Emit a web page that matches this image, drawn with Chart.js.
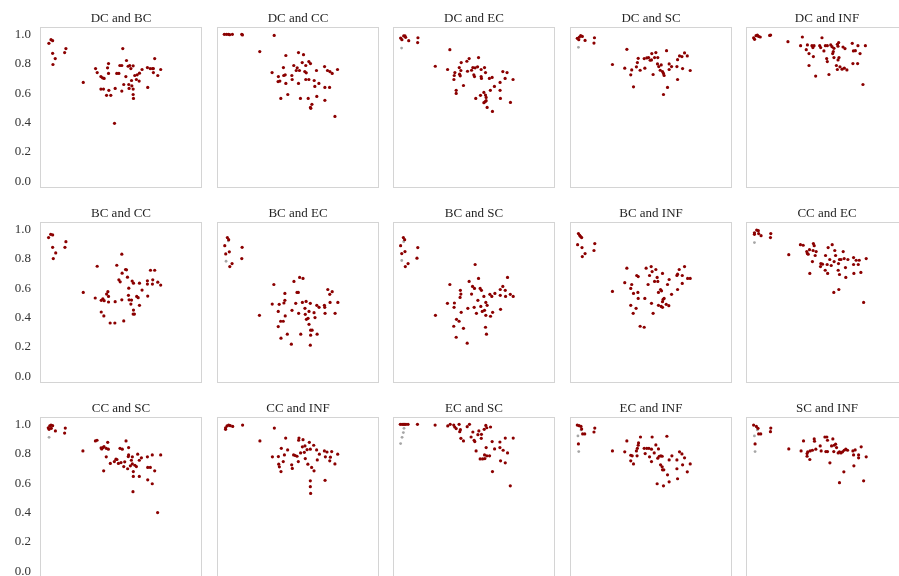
<!DOCTYPE html>
<html>
<head>
<meta charset="utf-8">
<script src="https://cdn.jsdelivr.net/npm/chart.js@4.4.1/dist/chart.umd.min.js"></script>
<style>
  body { margin: 0; background: #fff; }
  #grid { position: relative; width: 899px; height: 576px; overflow: hidden; }
  #grid canvas { position: absolute; }
</style>
</head>
<body>
<div id="grid"></div>
<script>
const titles = [
    'DC and BC', 'DC and CC', 'DC and EC', 'DC and SC', 'DC and INF',
    'BC and CC', 'BC and EC', 'BC and SC', 'BC and INF', 'CC and EC',
    'CC and SC', 'CC and INF', 'EC and SC', 'EC and INF', 'SC and INF',
];
const yTicks = [0, 0.2, 0.4, 0.6, 0.8, 1.0];

// [x, y] pairs
const dcBc = [[0.055,0.939],[0.068,0.964],[0.078,0.957],[0.078,0.871],[0.094,0.835],[0.080,0.795],[0.152,0.876],[0.160,0.903],[0.267,0.673],[0.343,0.767],[0.353,0.740],[0.376,0.713],[0.386,0.704],[0.396,0.700],[0.423,0.801],[0.417,0.772],[0.423,0.734],[0.376,0.628],[0.392,0.628],[0.411,0.585],[0.425,0.619],[0.437,0.585],[0.464,0.632],[0.460,0.395],[0.474,0.734],[0.487,0.734],[0.493,0.788],[0.505,0.788],[0.511,0.903],[0.505,0.614],[0.517,0.659],[0.530,0.713],[0.534,0.822],[0.544,0.783],[0.554,0.788],[0.548,0.659],[0.550,0.632],[0.561,0.767],[0.565,0.686],[0.567,0.650],[0.575,0.786],[0.575,0.628],[0.575,0.591],[0.577,0.564],[0.585,0.720],[0.595,0.693],[0.600,0.725],[0.612,0.682],[0.614,0.736],[0.630,0.761],[0.665,0.639],[0.663,0.774],[0.680,0.767],[0.694,0.767],[0.700,0.740],[0.708,0.835],[0.727,0.720],[0.745,0.761],[0.700,0.767]];
const dcCc = [[0.045,1.0],[0.058,1.0],[0.070,1.0],[0.078,0.998],[0.095,1.0],[0.153,1.0],[0.157,0.996],[0.353,0.993],[0.264,0.883],[0.425,0.856],[0.503,0.876],[0.534,0.862],[0.526,0.808],[0.567,0.815],[0.577,0.801],[0.410,0.774],[0.474,0.788],[0.495,0.772],[0.489,0.754],[0.509,0.754],[0.548,0.788],[0.542,0.747],[0.551,0.738],[0.614,0.754],[0.664,0.781],[0.682,0.754],[0.697,0.747],[0.711,0.734],[0.744,0.761],[0.340,0.740],[0.379,0.713],[0.412,0.720],[0.421,0.725],[0.462,0.720],[0.464,0.693],[0.377,0.679],[0.388,0.682],[0.425,0.666],[0.503,0.666],[0.548,0.693],[0.567,0.693],[0.600,0.686],[0.629,0.666],[0.604,0.646],[0.666,0.639],[0.695,0.639],[0.437,0.591],[0.394,0.564],[0.515,0.564],[0.563,0.564],[0.616,0.578],[0.666,0.551],[0.586,0.524],[0.577,0.503],[0.579,0.497],[0.728,0.442]];
const dcEc = [[0.047,0.975],[0.055,0.964],[0.066,0.989],[0.074,0.989],[0.078,0.980],[0.097,0.957],[0.154,0.977],[0.152,0.944],[0.351,0.896],[0.261,0.783],[0.337,0.761],[0.421,0.808],[0.456,0.817],[0.470,0.835],[0.528,0.842],[0.409,0.774],[0.419,0.754],[0.382,0.740],[0.378,0.720],[0.376,0.693],[0.415,0.718],[0.411,0.729],[0.460,0.749],[0.485,0.756],[0.493,0.774],[0.507,0.772],[0.522,0.779],[0.499,0.725],[0.503,0.713],[0.544,0.761],[0.565,0.774],[0.571,0.740],[0.544,0.713],[0.546,0.700],[0.595,0.700],[0.612,0.707],[0.678,0.747],[0.704,0.740],[0.692,0.700],[0.741,0.693],[0.661,0.673],[0.435,0.652],[0.390,0.619],[0.390,0.598],[0.626,0.646],[0.601,0.619],[0.561,0.605],[0.661,0.619],[0.540,0.585],[0.511,0.564],[0.571,0.587],[0.575,0.571],[0.569,0.542],[0.575,0.549],[0.561,0.535],[0.663,0.564],[0.725,0.537],[0.581,0.503],[0.614,0.476]];
const dcEcGrey = [[0.053,0.907]];
const dcSc = [[0.045,0.973],[0.058,0.982],[0.066,0.991],[0.076,0.986],[0.054,0.964],[0.093,0.959],[0.151,0.977],[0.148,0.941],[0.351,0.898],[0.262,0.795],[0.338,0.770],[0.381,0.758],[0.375,0.725],[0.392,0.643],[0.410,0.779],[0.416,0.808],[0.421,0.837],[0.433,0.756],[0.458,0.835],[0.462,0.770],[0.474,0.840],[0.485,0.842],[0.495,0.824],[0.505,0.869],[0.503,0.826],[0.522,0.842],[0.530,0.876],[0.542,0.842],[0.513,0.727],[0.540,0.799],[0.548,0.781],[0.563,0.792],[0.557,0.756],[0.571,0.747],[0.577,0.734],[0.581,0.720],[0.596,0.889],[0.612,0.799],[0.612,0.761],[0.627,0.781],[0.602,0.639],[0.577,0.591],[0.660,0.781],[0.664,0.828],[0.676,0.853],[0.691,0.849],[0.707,0.874],[0.724,0.853],[0.695,0.767],[0.664,0.693],[0.742,0.754]];
const dcScGrey = [[0.052,0.912]];
const dcInf = [[0.047,0.977],[0.053,0.966],[0.062,0.991],[0.070,0.995],[0.078,0.986],[0.088,0.982],[0.146,0.993],[0.152,0.995],[0.259,0.950],[0.348,0.982],[0.469,0.977],[0.337,0.923],[0.372,0.896],[0.379,0.928],[0.389,0.869],[0.407,0.923],[0.413,0.910],[0.420,0.923],[0.416,0.849],[0.389,0.788],[0.430,0.716],[0.455,0.923],[0.461,0.910],[0.481,0.887],[0.490,0.923],[0.502,0.923],[0.498,0.835],[0.502,0.815],[0.523,0.928],[0.531,0.916],[0.543,0.905],[0.539,0.883],[0.535,0.869],[0.543,0.842],[0.564,0.932],[0.572,0.944],[0.568,0.919],[0.574,0.842],[0.568,0.826],[0.558,0.788],[0.564,0.761],[0.580,0.779],[0.593,0.763],[0.607,0.770],[0.623,0.758],[0.512,0.727],[0.599,0.914],[0.611,0.903],[0.656,0.939],[0.663,0.887],[0.675,0.889],[0.691,0.923],[0.704,0.869],[0.737,0.923],[0.660,0.801],[0.689,0.801],[0.722,0.659]];
const bcCc = [[0.053,0.944],[0.066,0.966],[0.078,0.962],[0.078,0.878],[0.097,0.840],[0.082,0.801],[0.154,0.878],[0.160,0.916],[0.267,0.571],[0.353,0.749],[0.341,0.533],[0.378,0.438],[0.394,0.411],[0.378,0.517],[0.388,0.528],[0.396,0.515],[0.411,0.560],[0.419,0.576],[0.423,0.544],[0.423,0.506],[0.433,0.363],[0.462,0.363],[0.464,0.508],[0.474,0.756],[0.487,0.657],[0.495,0.643],[0.505,0.831],[0.507,0.702],[0.505,0.521],[0.517,0.377],[0.528,0.727],[0.534,0.725],[0.540,0.675],[0.548,0.600],[0.546,0.551],[0.550,0.521],[0.561,0.492],[0.565,0.519],[0.569,0.648],[0.577,0.634],[0.577,0.451],[0.575,0.424],[0.583,0.424],[0.597,0.544],[0.606,0.535],[0.614,0.634],[0.614,0.483],[0.630,0.587],[0.663,0.650],[0.663,0.628],[0.665,0.546],[0.682,0.722],[0.708,0.722],[0.696,0.657],[0.694,0.628],[0.727,0.641],[0.745,0.621]];
const bcEc = [[0.064,0.944],[0.072,0.930],[0.048,0.889],[0.076,0.847],[0.054,0.833],[0.155,0.878],[0.153,0.801],[0.093,0.767],[0.079,0.747],[0.262,0.415],[0.351,0.625],[0.341,0.492],[0.378,0.442],[0.384,0.490],[0.378,0.339],[0.393,0.375],[0.409,0.375],[0.395,0.260],[0.413,0.499],[0.419,0.517],[0.419,0.564],[0.421,0.411],[0.434,0.287],[0.459,0.219],[0.463,0.449],[0.475,0.646],[0.486,0.497],[0.494,0.571],[0.502,0.571],[0.504,0.429],[0.510,0.673],[0.531,0.666],[0.517,0.287],[0.527,0.503],[0.543,0.463],[0.545,0.422],[0.550,0.510],[0.552,0.388],[0.562,0.395],[0.568,0.442],[0.568,0.354],[0.576,0.497],[0.578,0.314],[0.587,0.314],[0.578,0.280],[0.576,0.212],[0.599,0.433],[0.605,0.400],[0.616,0.483],[0.630,0.470],[0.618,0.287],[0.663,0.483],[0.665,0.470],[0.667,0.429],[0.684,0.591],[0.696,0.558],[0.711,0.576],[0.698,0.503],[0.729,0.429],[0.746,0.503]];
const bcEcGrey = [[0.070,0.921],[0.056,0.783]];
const bcSc = [[0.064,0.944],[0.072,0.930],[0.047,0.889],[0.074,0.849],[0.054,0.835],[0.153,0.876],[0.148,0.804],[0.093,0.767],[0.076,0.747],[0.262,0.415],[0.351,0.625],[0.336,0.497],[0.379,0.499],[0.377,0.470],[0.375,0.341],[0.392,0.388],[0.408,0.375],[0.390,0.266],[0.414,0.537],[0.419,0.560],[0.416,0.585],[0.421,0.436],[0.435,0.327],[0.458,0.226],[0.462,0.463],[0.470,0.646],[0.485,0.560],[0.491,0.612],[0.503,0.598],[0.501,0.470],[0.507,0.761],[0.528,0.666],[0.524,0.517],[0.538,0.598],[0.546,0.585],[0.515,0.429],[0.542,0.476],[0.551,0.442],[0.561,0.544],[0.565,0.449],[0.573,0.503],[0.581,0.483],[0.573,0.415],[0.571,0.334],[0.577,0.287],[0.598,0.558],[0.610,0.544],[0.602,0.409],[0.615,0.436],[0.629,0.564],[0.662,0.551],[0.662,0.591],[0.664,0.456],[0.678,0.612],[0.693,0.585],[0.695,0.544],[0.707,0.673],[0.724,0.558],[0.742,0.544]];
const bcScGrey = [[0.066,0.916],[0.054,0.788]];
const bcInf = [[0.052,0.971],[0.060,0.959],[0.066,0.950],[0.072,0.944],[0.047,0.896],[0.074,0.876],[0.093,0.835],[0.076,0.815],[0.153,0.903],[0.148,0.856],[0.262,0.578],[0.351,0.736],[0.338,0.637],[0.381,0.625],[0.375,0.598],[0.392,0.564],[0.419,0.571],[0.421,0.530],[0.375,0.483],[0.408,0.463],[0.390,0.429],[0.412,0.686],[0.421,0.679],[0.433,0.341],[0.458,0.334],[0.462,0.530],[0.470,0.736],[0.482,0.625],[0.491,0.686],[0.501,0.747],[0.507,0.713],[0.503,0.497],[0.513,0.429],[0.530,0.727],[0.538,0.673],[0.522,0.646],[0.542,0.646],[0.571,0.700],[0.559,0.591],[0.565,0.582],[0.546,0.571],[0.575,0.524],[0.581,0.530],[0.571,0.508],[0.546,0.483],[0.563,0.476],[0.571,0.470],[0.594,0.490],[0.610,0.481],[0.602,0.625],[0.612,0.659],[0.627,0.558],[0.660,0.686],[0.664,0.695],[0.674,0.727],[0.693,0.686],[0.707,0.747],[0.693,0.632],[0.664,0.591],[0.726,0.666],[0.742,0.666]];
const ccEc = [[0.052,0.977],[0.066,0.995],[0.076,0.991],[0.052,0.966],[0.078,0.971],[0.093,0.957],[0.153,0.971],[0.151,0.944],[0.264,0.828],[0.336,0.896],[0.353,0.892],[0.375,0.849],[0.379,0.835],[0.392,0.862],[0.384,0.831],[0.416,0.903],[0.421,0.889],[0.414,0.856],[0.433,0.849],[0.427,0.822],[0.410,0.781],[0.394,0.700],[0.462,0.767],[0.460,0.747],[0.472,0.763],[0.491,0.822],[0.507,0.876],[0.517,0.795],[0.501,0.761],[0.489,0.722],[0.504,0.700],[0.526,0.754],[0.532,0.896],[0.548,0.856],[0.553,0.822],[0.544,0.781],[0.571,0.767],[0.577,0.795],[0.569,0.722],[0.577,0.693],[0.586,0.795],[0.600,0.849],[0.606,0.801],[0.614,0.740],[0.616,0.673],[0.629,0.795],[0.542,0.571],[0.573,0.591],[0.664,0.808],[0.664,0.761],[0.666,0.700],[0.680,0.790],[0.693,0.761],[0.699,0.790],[0.709,0.707],[0.742,0.801],[0.726,0.503]];
const ccEcGrey = [[0.052,0.910]];
const ccSc = [[0.051,0.977],[0.060,0.989],[0.068,0.995],[0.078,0.991],[0.070,0.973],[0.056,0.966],[0.095,0.955],[0.156,0.975],[0.152,0.941],[0.265,0.819],[0.342,0.887],[0.352,0.892],[0.377,0.840],[0.381,0.833],[0.389,0.842],[0.395,0.849],[0.409,0.837],[0.418,0.878],[0.422,0.831],[0.393,0.684],[0.409,0.779],[0.434,0.734],[0.459,0.747],[0.469,0.763],[0.475,0.761],[0.484,0.734],[0.494,0.837],[0.508,0.831],[0.500,0.740],[0.517,0.713],[0.523,0.745],[0.531,0.887],[0.541,0.698],[0.547,0.842],[0.545,0.781],[0.547,0.792],[0.558,0.718],[0.564,0.756],[0.570,0.779],[0.570,0.731],[0.576,0.679],[0.576,0.646],[0.574,0.542],[0.586,0.722],[0.595,0.713],[0.603,0.797],[0.613,0.756],[0.613,0.646],[0.626,0.772],[0.663,0.779],[0.665,0.707],[0.665,0.623],[0.681,0.707],[0.693,0.792],[0.693,0.596],[0.708,0.684],[0.745,0.792],[0.726,0.400]];
const ccScGrey = [[0.056,0.912]];
const ccInf = [[0.053,0.977],[0.062,0.989],[0.072,0.995],[0.082,0.991],[0.097,0.986],[0.053,0.966],[0.158,0.995],[0.354,0.975],[0.265,0.887],[0.342,0.779],[0.379,0.781],[0.381,0.729],[0.385,0.711],[0.395,0.679],[0.397,0.837],[0.409,0.747],[0.416,0.792],[0.424,0.907],[0.436,0.826],[0.461,0.725],[0.465,0.700],[0.473,0.792],[0.483,0.788],[0.494,0.783],[0.502,0.747],[0.504,0.892],[0.506,0.907],[0.516,0.806],[0.527,0.847],[0.531,0.896],[0.539,0.810],[0.543,0.853],[0.545,0.767],[0.556,0.828],[0.561,0.729],[0.570,0.878],[0.576,0.831],[0.584,0.707],[0.599,0.684],[0.597,0.858],[0.576,0.616],[0.576,0.576],[0.578,0.530],[0.615,0.826],[0.619,0.758],[0.632,0.797],[0.663,0.819],[0.669,0.779],[0.667,0.619],[0.679,0.812],[0.696,0.752],[0.700,0.777],[0.708,0.815],[0.728,0.731],[0.745,0.797]];
const ecSc = [[0.045,1.0],[0.056,1.0],[0.064,1.0],[0.072,1.0],[0.080,1.0],[0.093,1.0],[0.151,1.0],[0.260,0.995],[0.338,0.989],[0.353,1.0],[0.375,0.995],[0.381,0.982],[0.390,0.971],[0.408,1.0],[0.416,0.964],[0.412,0.950],[0.419,0.905],[0.435,0.887],[0.458,0.984],[0.472,1.0],[0.493,0.948],[0.482,0.914],[0.501,0.892],[0.505,0.883],[0.513,0.819],[0.524,0.930],[0.530,0.955],[0.546,0.932],[0.545,0.905],[0.563,0.966],[0.573,0.993],[0.579,0.977],[0.602,0.982],[0.575,0.842],[0.538,0.765],[0.553,0.765],[0.567,0.767],[0.565,0.792],[0.579,0.786],[0.596,0.786],[0.612,0.883],[0.627,0.833],[0.614,0.679],[0.660,0.880],[0.660,0.842],[0.680,0.824],[0.693,0.907],[0.707,0.806],[0.664,0.752],[0.693,0.738],[0.742,0.907],[0.724,0.582]];
const ecScGrey = [[0.068,0.973],[0.064,0.944],[0.056,0.912],[0.047,0.869]];
const ecInf = [[0.045,0.995],[0.056,0.991],[0.068,0.986],[0.072,0.968],[0.078,0.935],[0.091,0.935],[0.052,0.867],[0.153,0.975],[0.148,0.948],[0.262,0.819],[0.351,0.887],[0.338,0.813],[0.375,0.790],[0.384,0.786],[0.375,0.752],[0.392,0.731],[0.414,0.786],[0.410,0.819],[0.416,0.837],[0.421,0.858],[0.423,0.874],[0.435,0.914],[0.458,0.837],[0.464,0.801],[0.474,0.837],[0.487,0.837],[0.491,0.779],[0.503,0.747],[0.507,0.914],[0.503,0.831],[0.520,0.806],[0.530,0.860],[0.542,0.770],[0.546,0.833],[0.551,0.783],[0.561,0.786],[0.569,0.783],[0.559,0.725],[0.569,0.711],[0.571,0.691],[0.579,0.691],[0.598,0.919],[0.602,0.657],[0.538,0.596],[0.577,0.582],[0.612,0.609],[0.612,0.758],[0.629,0.786],[0.660,0.758],[0.660,0.698],[0.664,0.630],[0.676,0.813],[0.691,0.799],[0.695,0.725],[0.707,0.772],[0.724,0.677],[0.742,0.731]];
const ecInfGrey = [[0.068,0.962],[0.049,0.921],[0.054,0.815]];
const scInf = [[0.047,0.995],[0.064,0.986],[0.074,0.973],[0.078,0.935],[0.091,0.935],[0.056,0.867],[0.153,0.975],[0.151,0.950],[0.264,0.833],[0.340,0.819],[0.355,0.887],[0.377,0.801],[0.377,0.783],[0.381,0.813],[0.394,0.761],[0.396,0.819],[0.410,0.824],[0.421,0.901],[0.423,0.885],[0.431,0.831],[0.458,0.853],[0.464,0.819],[0.487,0.914],[0.499,0.914],[0.503,0.892],[0.493,0.815],[0.503,0.815],[0.518,0.738],[0.528,0.853],[0.536,0.901],[0.544,0.858],[0.553,0.865],[0.559,0.842],[0.542,0.815],[0.569,0.806],[0.577,0.813],[0.586,0.806],[0.596,0.813],[0.606,0.824],[0.616,0.831],[0.627,0.824],[0.604,0.677],[0.577,0.603],[0.660,0.819],[0.674,0.826],[0.664,0.792],[0.695,0.792],[0.695,0.772],[0.711,0.847],[0.666,0.718],[0.742,0.779],[0.726,0.616]];
const scInfGrey = [[0.070,0.962],[0.052,0.921],[0.056,0.815]];

const redSets = [dcBc, dcCc, dcEc, dcSc, dcInf, bcCc, bcEc, bcSc, bcInf, ccEc, ccSc, ccInf, ecSc, ecInf, scInf];
const greySets = [[], [], dcEcGrey, dcScGrey, [], [], bcEcGrey, bcScGrey, [], ccEcGrey, ccScGrey, [], ecScGrey, ecInfGrey, scInfGrey];

const colLeft = [0, 177, 353, 530, 706];
const rowTop = [0, 195, 390];

Chart.defaults.font.family = "'Liberation Serif', 'DejaVu Serif', serif";
Chart.defaults.color = '#333';

// light grey frame round each plot area
const frame = {
    id: 'frame',
    beforeDatasetsDraw(chart) {
        const a = chart.chartArea;
        const ctx = chart.ctx;
        ctx.save();
        ctx.strokeStyle = '#d4d4d4';
        ctx.lineWidth = 1;
        ctx.strokeRect(a.left + 0.5, a.top + 0.5, a.right - a.left - 1, a.bottom - a.top - 1);
        ctx.restore();
    }
};

const toPoints = arr => arr.map(p => ({x: p[0], y: p[1]}));
const grid = document.getElementById('grid');

titles.forEach((title, i) => {
    const col = i % 5;
    const row = Math.floor(i / 5);
    const canvas = document.createElement('canvas');
    canvas.width = 204;
    canvas.height = 190;
    canvas.style.left = colLeft[col] + 'px';
    canvas.style.top = rowTop[row] + 'px';
    grid.appendChild(canvas);

    new Chart(canvas, {
        type: 'scatter',
        data: {
            datasets: [{
                data: toPoints(redSets[i]),
                backgroundColor: '#8b0000',
                borderWidth: 0,
                pointRadius: 1.6,
            }, {
                data: toPoints(greySets[i]),
                backgroundColor: '#a6a6a6',
                borderWidth: 0,
                pointRadius: 1.4,
            }]
        },
        options: {
            responsive: false,
            animation: false,
            events: [],
            layout: { autoPadding: false, padding: { left: 0, top: 0, right: 2, bottom: 2 } },
            plugins: {
                legend: { display: false },
                tooltip: { enabled: false },
                title: {
                    display: true,
                    text: title,
                    fullSize: false,
                    color: '#262626',
                    font: { size: 13, weight: 'normal' },
                    padding: { top: 10.5, bottom: 0.9 },
                },
            },
            scales: {
                x: { type: 'linear', min: 0, max: 1, display: false },
                y: {
                    min: -0.045,
                    max: 1.05,
                    grid: { display: false, drawTicks: false },
                    border: { display: false },
                    afterFit(scale) {
                        // fixed gutter, and no extra room for the end labels
                        scale.width = 40;
                        scale.paddingTop = 0;
                        scale.paddingBottom = 0;
                    },
                    afterBuildTicks(scale) { scale.ticks = yTicks.map(v => ({value: v})); },
                    ticks: {
                        display: col === 0,
                        padding: 9,
                        color: '#333',
                        font: { size: 13 },
                        callback: v => v.toFixed(1),
                    },
                },
            },
        },
        plugins: [frame],
    });
});
</script>
</body>
</html>
